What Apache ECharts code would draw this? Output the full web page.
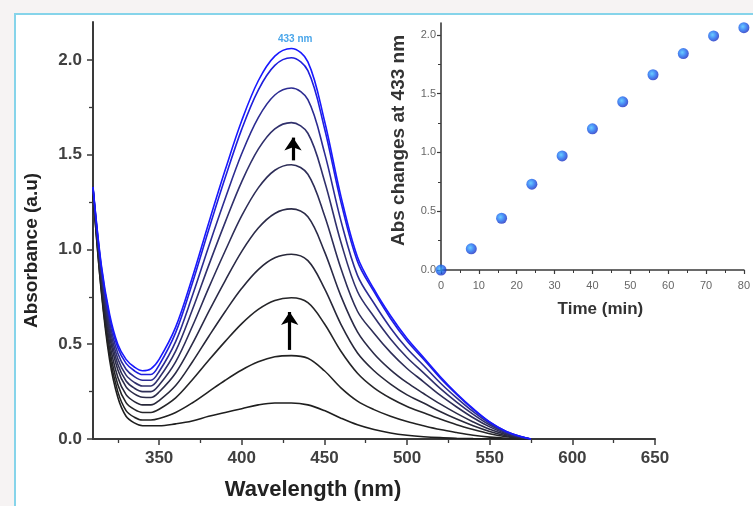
<!DOCTYPE html>
<html><head><meta charset="utf-8">
<script src="https://cdn.jsdelivr.net/npm/echarts@6/dist/echarts.min.js"></script>
<style>html,body{margin:0;padding:0;background:#fff}#c{width:753px;height:506px}</style>
</head><body><div id="c"></div>
<script>
// ---- data ----
const wavelengths = [310,315,320,325,330,335,340,345,350,360,370,380,390,400,410,420,430,440,450,460,470,480,490,500,510,520,530,540,550,560,570,575];
const abs1  = [1.30,0.78,0.42,0.22,0.12,0.085,0.07,0.07,0.07, 0.08,0.095,0.12,0.14,0.16,0.18,0.19,0.19,0.18,0.15,0.11,0.075,0.05,0.032,0.02,0.012,0.007,0.004,0.002,0.001,0,0, 0];
const abs2  = [1.30,0.79,0.445,0.25,0.15,0.115,0.10,0.10,0.108, 0.14,0.19,0.25,0.31,0.364,0.407,0.434,0.44,0.426,0.36,0.27,0.20,0.155,0.12,0.092,0.07,0.05,0.034,0.02,0.01,0.004,0.001, 0];
const abs3  = [1.307,0.814,0.478,0.287,0.192,0.156,0.14,0.14,0.157, 0.217,0.311,0.415,0.515,0.609,0.684,0.731,0.745,0.719,0.608,0.463,0.347,0.27,0.215,0.172,0.138,0.105,0.075,0.05,0.028,0.012,0.003, 0];
const abs4  = [1.311,0.833,0.511,0.326,0.234,0.197,0.18,0.18,0.203, 0.282,0.405,0.541,0.673,0.795,0.894,0.956,0.975,0.941,0.795,0.605,0.454,0.36,0.29,0.233,0.19,0.145,0.105,0.07,0.04,0.017,0.004, 0];
const abs5  = [1.316,0.852,0.544,0.365,0.275,0.238,0.22,0.219,0.248, 0.348,0.50,0.672,0.836,0.99,1.113,1.19,1.214,1.172,0.99,0.754,0.565,0.45,0.365,0.297,0.24,0.185,0.135,0.09,0.051,0.023,0.006, 0];
const abs6  = [1.319,0.867,0.569,0.394,0.306,0.268,0.25,0.25,0.285, 0.407,0.592,0.797,0.993,1.178,1.325,1.418,1.447,1.397,1.18,0.899,0.674,0.558,0.457,0.372,0.302,0.231,0.169,0.112,0.064,0.028,0.007, 0];
const abs7  = [1.322,0.881,0.594,0.423,0.337,0.299,0.28,0.28,0.322, 0.464,0.679,0.916,1.144,1.358,1.529,1.636,1.669,1.613,1.363,1.038,0.778,0.645,0.528,0.43,0.349,0.267,0.195,0.13,0.074,0.033,0.008, 0];
const abs8  = [1.325,0.896,0.619,0.452,0.368,0.329,0.31,0.31,0.356, 0.514,0.753,1.016,1.269,1.506,1.696,1.815,1.852,1.79,1.512,1.151,0.863,0.716,0.586,0.477,0.388,0.297,0.217,0.144,0.082,0.036,0.009, 0];
const abs9  = [1.328,0.91,0.643,0.481,0.399,0.36,0.34,0.34,0.39, 0.561,0.819,1.104,1.379,1.635,1.841,1.971,2.011,1.943,1.641,1.25,0.937,0.777,0.636,0.517,0.421,0.322,0.235,0.156,0.089,0.04,0.01, 0];
const abs10 = [1.33,0.92,0.66,0.50,0.42,0.38,0.36,0.37,0.42, 0.59,0.85,1.14,1.42,1.68,1.89,2.02,2.06,1.99,1.68,1.28,0.96,0.79,0.65,0.53,0.43,0.33,0.24,0.16,0.09,0.04,0.01, 0];
const spectra = [abs1,abs2,abs3,abs4,abs5,abs6,abs7,abs8,abs9,abs10];
const spectraColors = ['#1e1e1e','#222222','#252528','#28283a','#2b2b48','#2e2e58','#30306c','#2c2c92','#1f1fdc','#1818ff'];

const timeMin = [0,8,16,24,32,40,48,56,64,72,80];
const abs433  = [0,0.18,0.44,0.73,0.97,1.20,1.43,1.66,1.84,1.99,2.06];

const wlTicks = [350,400,450,500,550,600,650];
const wlMinorTicks = [325,375,425,475,525,575,625];
const absTicks = [0,0.5,1.0,1.5,2.0];
const absMinorTicks = [0.25,0.75,1.25,1.75];
const timeTicks = [0,10,20,30,40,50,60,70,80];
const timeMinorTicks = [5,15,25,35,45,55,65,75];
const insetAbsTicks = [0,0.5,1.0,1.5,2.0];
const insetAbsMinorTicks = [0.25,0.75,1.25,1.75];

const arrowLow  = [[429,0.47],[429,0.67]];
const arrowHigh = [[431,1.47],[431,1.59]];

// ---- chart ----
const chart = echarts.init(document.getElementById('c'));
const FONT = 'Liberation Sans';
const axisCol = '#3a3a3a';

const series = spectra.map((arr,i)=>({
  type:'line', xAxisIndex:0, yAxisIndex:0, showSymbol:false, smooth:0.35,
  data: wavelengths.map((w,j)=>[w, arr[j]]),
  lineStyle:{color:spectraColors[i], width:1.6}, silent:true, z:2+i*0.01
}));
series.push({
  type:'line', xAxisIndex:0, yAxisIndex:0, data:[], silent:true, z:6,
  markLine:{
    silent:true, symbol:['none','arrow'], symbolSize:13,
    label:{show:false},
    lineStyle:{color:'#000', width:3.2, type:'solid'},
    data:[
      [{coord:arrowLow[0]},{coord:arrowLow[1]}],
      [{coord:arrowHigh[0]},{coord:arrowHigh[1]}]
    ]
  }
});
series.push({
  type:'scatter', xAxisIndex:2, yAxisIndex:2, symbolSize:11,
  data: timeMin.map((t,i)=>[t, abs433[i]]),
  itemStyle:{color:new echarts.graphic.RadialGradient(0.4,0.4,0.6,[
    {offset:0,color:'#45c0ff'},{offset:0.55,color:'#1b6cf2'},{offset:1,color:'#1a2fc2'}])},
  silent:true, z:5
});

function mkAxisLine(){return {show:true, lineStyle:{color:axisCol, width:2}};}

chart.setOption({
  animation:false,
  backgroundColor:'#f6f3f3',
  textStyle:{fontFamily:FONT},
  graphic:[
    {type:'rect', z:-10, shape:{x:15,y:14,width:800,height:600},
     style:{fill:'#ffffff', stroke:'#86d4ea', lineWidth:2}},
    {type:'text', z:10, left:270, top:33,
     style:{text:'433 nm', fill:'#4aa6ea', font:'bold 10px Liberation Sans',
       backgroundColor:'#fff', padding:[1,8]}}
  ],
  grid:[
    {left:93, right:98, top:22, bottom:65, containLabel:false},
    {left:441, right:0, top:23, bottom:236, containLabel:false}
  ],
  xAxis:[
    {gridIndex:0, type:'value', min:310, max:650, position:'bottom',
     axisLine:mkAxisLine(),
     axisTick:{show:true, customValues:wlTicks, length:6, lineStyle:{color:axisCol,width:1.5}},
     axisLabel:{customValues:wlTicks, color:'#404040', fontSize:17, fontWeight:'bold', margin:11, fontFamily:FONT},
     splitLine:{show:false},
     name:'Wavelength (nm)', nameLocation:'middle', nameGap:40,
     nameTextStyle:{fontSize:22, fontWeight:'bold', color:'#222', fontFamily:FONT, padding:[0,122,0,0]}},
    {gridIndex:0, type:'value', min:310, max:650, position:'bottom',
     axisLine:{show:false},
     axisTick:{show:true, customValues:wlMinorTicks, length:4, lineStyle:{color:axisCol,width:1.3}},
     axisLabel:{show:false}, splitLine:{show:false}},
    {gridIndex:1, type:'value', min:0, max:80, position:'bottom',
     axisLine:{show:true, lineStyle:{color:axisCol, width:1.6}},
     axisTick:{show:true, customValues:timeTicks, length:4, lineStyle:{color:axisCol,width:1.2}},
     axisLabel:{customValues:timeTicks, color:'#666', fontSize:11, margin:10, fontFamily:FONT},
     splitLine:{show:false},
     name:'Time (min)', nameLocation:'middle', nameGap:31,
     nameTextStyle:{fontSize:17, fontWeight:'bold', color:'#333', fontFamily:FONT, padding:[0,0,0,16]}},
    {gridIndex:1, type:'value', min:0, max:80, position:'bottom',
     axisLine:{show:false},
     axisTick:{show:true, customValues:timeMinorTicks, length:3, lineStyle:{color:axisCol,width:1}},
     axisLabel:{show:false}, splitLine:{show:false}}
  ],
  yAxis:[
    {gridIndex:0, type:'value', min:0, max:2.2, position:'left',
     axisLine:mkAxisLine(),
     axisTick:{show:true, customValues:absTicks, length:6, lineStyle:{color:axisCol,width:1.5}},
     axisLabel:{customValues:absTicks, formatter:v=>v.toFixed(1), color:'#404040', fontSize:17, fontWeight:'bold', margin:11, fontFamily:FONT},
     splitLine:{show:false},
     name:'Absorbance (a.u)', nameLocation:'middle', nameGap:52,
     nameTextStyle:{fontSize:19, fontWeight:'bold', color:'#222', fontFamily:FONT, padding:[0,40,0,0]}},
    {gridIndex:0, type:'value', min:0, max:2.2, position:'left',
     axisLine:{show:false},
     axisTick:{show:true, customValues:absMinorTicks, length:4, lineStyle:{color:axisCol,width:1.3}},
     axisLabel:{show:false}, splitLine:{show:false}},
    {gridIndex:1, type:'value', min:0, max:2.1, position:'left',
     axisLine:{show:true, lineStyle:{color:axisCol, width:1.6}},
     axisTick:{show:true, customValues:insetAbsTicks, length:4, lineStyle:{color:axisCol,width:1.2}},
     axisLabel:{customValues:insetAbsTicks, formatter:v=>v.toFixed(1), color:'#666', fontSize:11, margin:5, fontFamily:FONT},
     splitLine:{show:false},
     name:'Abs changes at 433 nm', nameLocation:'middle', nameGap:33,
     nameTextStyle:{fontSize:19, fontWeight:'bold', color:'#333', fontFamily:FONT, padding:[0,0,0,12]}},
    {gridIndex:1, type:'value', min:0, max:2.1, position:'left',
     axisLine:{show:false},
     axisTick:{show:true, customValues:insetAbsMinorTicks, length:3, lineStyle:{color:axisCol,width:1}},
     axisLabel:{show:false}, splitLine:{show:false}}
  ],
  series: series
});
</script>
</body></html>
